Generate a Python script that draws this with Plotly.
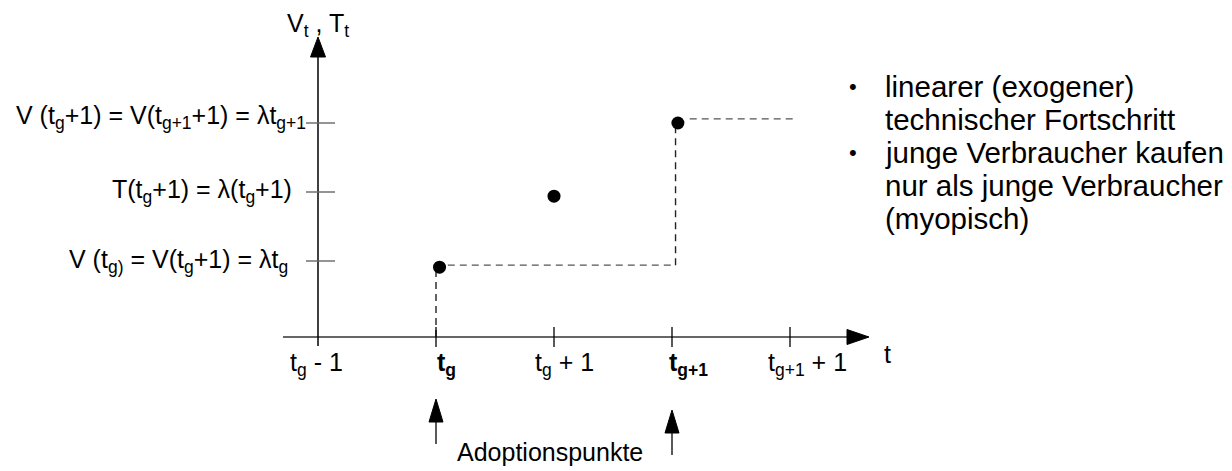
import plotly.graph_objects as go

# ---------------- data ----------------
t_positions = [0, 1, 2, 3, 4]
t_labels = ["t<sub>g</sub> - 1", "<b>t<sub>g</sub></b>", "t<sub>g</sub> + 1",
            "<b>t<sub>g+1</sub></b>", "t<sub>g+1</sub> + 1"]
levels = [1, 2, 3]
level_labels = ["V (t<sub>g)</sub> = V(t<sub>g</sub>+1) = λt<sub>g</sub>",
                "T(t<sub>g</sub>+1) = λ(t<sub>g</sub>+1)",
                "V (t<sub>g</sub>+1) = V(t<sub>g+1</sub>+1) = λt<sub>g+1</sub>"]
dots_x = [1.03, 2.0, 3.05]
dots_y = [0.91, 1.94, 3.0]
step_x = [1.0, 3.03]
step_low_y = 0.94
step_high_y = 3.06
step_high_x = [3.15, 4.03]
adoption_x = [1, 3]
bullet_lines = [("•", "linearer (exogener)"), ("", "technischer Fortschritt"),
                ("•", "junge Verbraucher kaufen"), ("", "nur als junge Verbraucher"),
                ("", "(myopisch)")]

# ---------------- layout geometry (page pixels) ----------------
OFF = 8                      # default body margin of the html page
W, H = 1232 - OFF, 471 - OFF
X0, XS = 318, 118            # page pixel of x=0, pixels per unit
Y0, YS = 330, 69             # page pixel of y=0, pixels per unit


def px2x(p):
    return (p - X0) / XS


def px2y(p):
    return (Y0 - p) / YS


FONT = "Liberation Sans, Arial, sans-serif"
AXIS_Y = px2y(337)

fig = go.Figure()

# dashed step lines
vdash = dict(color="#222", width=1.4, dash="7px,5px")
hdash = dict(color="#555", width=1.4, dash="7px,5px")
fig.add_trace(go.Scatter(x=[step_x[0], step_x[0]], y=[AXIS_Y, dots_y[0]], mode="lines",
                         line=vdash, hoverinfo="skip"))
fig.add_trace(go.Scatter(x=[step_x[0] + 0.1, step_x[1]], y=[step_low_y, step_low_y],
                         mode="lines", line=hdash, hoverinfo="skip"))
fig.add_trace(go.Scatter(x=[step_x[1], step_x[1]], y=[step_low_y, dots_y[2]],
                         mode="lines", line=vdash, hoverinfo="skip"))
fig.add_trace(go.Scatter(x=step_high_x, y=[step_high_y, step_high_y],
                         mode="lines", line=hdash, hoverinfo="skip"))

# dots
fig.add_trace(go.Scatter(x=dots_x, y=dots_y, mode="markers",
                         marker=dict(color="black", size=13, line=dict(width=0)),
                         hoverinfo="skip"))

shapes = []
# x axis
x_start, x_tip = px2x(283), px2x(869)
shapes.append(dict(type="line", x0=x_start, x1=x_tip - 12 / XS, y0=AXIS_Y, y1=AXIS_Y,
                   line=dict(color="#333", width=1.5)))
shapes.append(dict(type="path",
                   path=f"M {x_tip},{AXIS_Y} L {x_tip - 22 / XS},{AXIS_Y + 7.5 / YS} "
                        f"L {x_tip - 22 / XS},{AXIS_Y - 7.5 / YS} Z",
                   fillcolor="black", line=dict(color="black", width=1)))
# y axis
y_bot, y_tip = px2y(346), px2y(37)
shapes.append(dict(type="line", x0=0, x1=0, y0=y_bot, y1=y_tip - 12 / YS,
                   line=dict(color="black", width=1.5)))
shapes.append(dict(type="path",
                   path=f"M 0,{y_tip} L {-7.5 / XS},{y_tip - 20 / YS} "
                        f"L {7.5 / XS},{y_tip - 20 / YS} Z",
                   fillcolor="black", line=dict(color="black", width=1)))
# x ticks
for xp in t_positions[1:]:
    shapes.append(dict(type="line", x0=xp, x1=xp, y0=px2y(327), y1=px2y(347),
                       line=dict(color="black", width=1.3)))
# y ticks
for lv in levels:
    shapes.append(dict(type="line", x0=px2x(306), x1=px2x(335), y0=lv, y1=lv,
                       line=dict(color="#666", width=1.4)))

# adoption arrows (tip, shaft end in page pixels)
arrow_geo = [(399, 444), (410, 455)]
for xp, (tip_px, end_px) in zip(adoption_x, arrow_geo):
    tip = px2y(tip_px)
    shapes.append(dict(type="line", x0=xp, x1=xp, y0=tip - 20 / YS, y1=px2y(end_px),
                       line=dict(color="black", width=1.3)))
    shapes.append(dict(type="path",
                       path=f"M {xp},{tip} L {xp - 7 / XS},{tip - 23 / YS} "
                            f"L {xp + 7 / XS},{tip - 23 / YS} Z",
                       fillcolor="black", line=dict(color="black", width=1)))

annotations = []
# x tick labels (left edge offset from tick, pixels)
label_xshift = [-30, -1, -21, -5, -24]
for xp, lab, sh in zip(t_positions, t_labels, label_xshift):
    annotations.append(dict(x=xp, y=px2y(364), text=lab, showarrow=False,
                            xanchor="left", yanchor="middle", xshift=sh,
                            font=dict(size=25, color="black", family=FONT)))
annotations.append(dict(x=px2x(887), y=px2y(354), text="t", showarrow=False,
                        xanchor="center", yanchor="middle",
                        font=dict(size=25, color="black", family=FONT)))
# y tick labels (right edges in page pixels, vertical shifts)
label_right = [290, 294, 308]
label_yshift = [0, 1, 6]
for lv, lab, rp, ys in zip(levels, level_labels, label_right, label_yshift):
    annotations.append(dict(x=px2x(rp), y=lv, text=lab, showarrow=False,
                            xanchor="right", yanchor="middle", yshift=ys,
                            font=dict(size=25, color="black", family=FONT)))
annotations.append(dict(x=px2x(318), y=px2y(25), text="V<sub>t</sub> , T<sub>t</sub>",
                        showarrow=False, xanchor="center", yanchor="middle",
                        font=dict(size=25, color="black", family=FONT)))
# adoption label
annotations.append(dict(x=px2x(550), y=px2y(452), text="Adoptionspunkte", showarrow=False,
                        xanchor="center", yanchor="middle",
                        font=dict(size=25, color="black", family=FONT)))
# bullet text
line_y = [86, 119, 152, 185, 218]
for (b, txt), ly in zip(bullet_lines, line_y):
    if b:
        annotations.append(dict(x=px2x(853), y=px2y(ly), text=b, showarrow=False,
                                xanchor="center", yanchor="middle",
                                font=dict(size=22, color="black", family=FONT)))
    annotations.append(dict(x=px2x(883), y=px2y(ly), text=txt, showarrow=False,
                            xanchor="left", yanchor="middle",
                            font=dict(size=29.5, color="black", family=FONT)))

fig.update_layout(
    width=W, height=H,
    margin=dict(l=0, r=0, t=0, b=0),
    paper_bgcolor="white", plot_bgcolor="white",
    showlegend=False,
    xaxis=dict(range=[px2x(OFF), px2x(OFF + W)], visible=False, fixedrange=True),
    yaxis=dict(range=[px2y(OFF + H), px2y(OFF)], visible=False, fixedrange=True),
    shapes=shapes, annotations=annotations,
)

fig.write_html("out.html")
